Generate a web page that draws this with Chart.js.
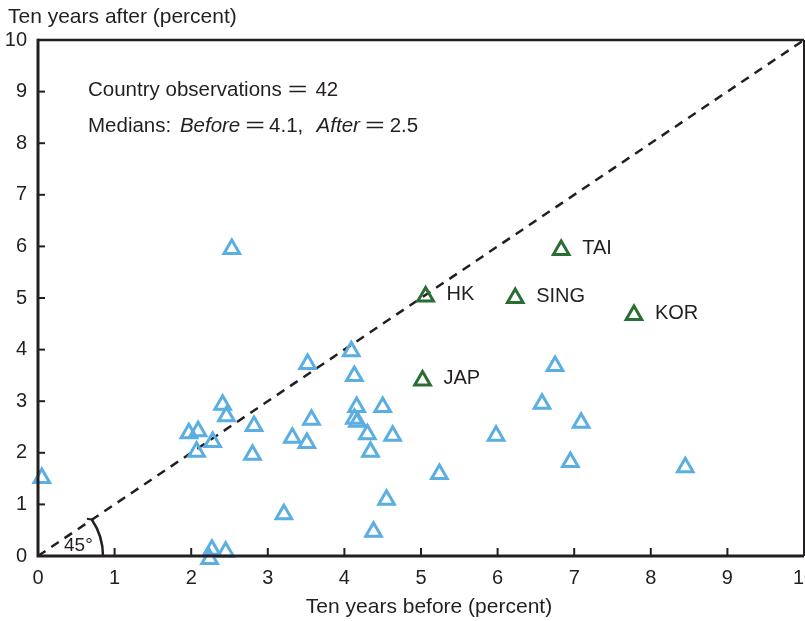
<!DOCTYPE html>
<html><head><meta charset="utf-8">
<script src="https://cdn.jsdelivr.net/npm/chart.js@4"></script>
<style>html,body{margin:0;padding:0;background:#fff}</style>
</head><body>
<canvas id="c" width="805" height="621"></canvas>
<script>
// ---- data ----
const axisMin = 0;
const axisMax = 10;
const otherBefore = [0.05,2.53,1.97,2.09,2.07,2.28,2.41,2.46,2.82,2.80,2.24,2.27,2.45,3.21,3.32,3.51,3.52,3.57,4.09,4.13,4.16,4.13,4.17,4.30,4.34,4.50,4.63,4.55,4.38,5.24,5.98,6.58,6.75,7.09,6.95,8.45];
const otherAfter  = [1.51,5.95,2.38,2.42,2.02,2.21,2.93,2.71,2.52,1.96,-0.06,0.12,0.08,0.81,2.29,2.19,3.72,2.64,3.97,3.49,2.89,2.66,2.60,2.36,2.02,2.89,2.33,1.09,0.47,1.59,2.33,2.95,3.68,2.58,1.82,1.72];
const asiaNames  = ['HK','SING','TAI','KOR','JAP'];
const asiaBefore = [5.06,6.23,6.83,7.78,5.02];
const asiaAfter  = [5.03,5.00,5.93,4.67,3.40];
const diagonal   = [0,10];
const xTitle = 'Ten years before (percent)';
const yTitle = 'Ten years after (percent)';
const observations = '42';
const medianBefore = '4.1';
const medianAfter = '2.5';

const INK = '#231f20';
const BLUE = '#5aaee2';
const GREEN = '#2b6e34';
const FONT = '"Liberation Sans", Arial, sans-serif';

// parts: [text, font, gapBefore, xScale]
function drawRun(ctx, x, y, parts) {
  for (const [t, font, gap, sx] of parts) {
    x += gap;
    ctx.font = font;
    const w = ctx.measureText(t).width;
    const k = sx || 1;
    ctx.save();
    ctx.translate(x, y);
    ctx.scale(k, 1);
    ctx.fillText(t, 0, 0);
    ctx.restore();
    x += w * k;
  }
}

const overlay = {
  id: 'overlay',
  afterDatasetsDraw(chart) {
    const ctx = chart.ctx;
    const a = chart.chartArea;
    const xs = chart.scales.x, ys = chart.scales.y;
    ctx.save();
    ctx.strokeStyle = INK;
    ctx.lineCap = 'butt';
    ctx.lineWidth = 2.5;
    ctx.beginPath(); ctx.moveTo(a.left, a.top); ctx.lineTo(a.right, a.top); ctx.stroke();
    ctx.lineWidth = 2;
    ctx.beginPath(); ctx.moveTo(a.right, a.top); ctx.lineTo(a.right, a.bottom); ctx.stroke();
    ctx.lineWidth = 3;
    ctx.beginPath(); ctx.moveTo(a.left, a.top - 1.2); ctx.lineTo(a.left, a.bottom); ctx.lineTo(a.right, a.bottom); ctx.stroke();
    ctx.lineWidth = 2;
    for (let v = axisMin + 1; v < axisMax; v++) {
      const px = xs.getPixelForValue(v);
      ctx.beginPath(); ctx.moveTo(px, a.bottom); ctx.lineTo(px, a.bottom - 8); ctx.stroke();
      const py = ys.getPixelForValue(v);
      ctx.beginPath(); ctx.moveTo(a.left, py); ctx.lineTo(a.left + 7, py); ctx.stroke();
    }
    const ox = xs.getPixelForValue(0), oy = ys.getPixelForValue(0);
    const ang = Math.atan2(ys.getPixelForValue(1) - oy, xs.getPixelForValue(1) - ox);
    const R = 65;
    ctx.lineWidth = 2.5;
    ctx.beginPath(); ctx.arc(ox, oy, R, ang, 0); ctx.stroke();
    const ex = ox + R * Math.cos(ang), ey = oy + R * Math.sin(ang);
    ctx.lineWidth = 2;
    ctx.beginPath(); ctx.moveTo(ex + 1, ey); ctx.lineTo(ex - 5, ey - 1); ctx.stroke();
    ctx.restore();
  },
  afterDraw(chart) {
    const ctx = chart.ctx;
    const a = chart.chartArea;
    ctx.save();
    ctx.fillStyle = INK;
    ctx.textBaseline = 'middle';
    ctx.textAlign = 'left';
    ctx.font = '21px ' + FONT;
    ctx.fillText(yTitle, 8, 17);
    ctx.textAlign = 'center';
    ctx.fillText(xTitle, (a.left + a.right) / 2 + 8, 607);
    ctx.textAlign = 'left';
    const F = '20.5px ' + FONT, FI = 'italic 20.5px ' + FONT;
    const EQ = 1.65;
    drawRun(ctx, 88, 90, [['Country observations', F, 0], ['=', F, 6, EQ], [observations, F, 8]]);
    drawRun(ctx, 88, 126, [['Medians: ', F, 0], ['Before', FI, 3], ['=', F, 5, EQ], [medianBefore + ',  ', F, 4], ['After', FI, 2], ['=', F, 5, EQ], [medianAfter, F, 5]]);
    ctx.font = '19px ' + FONT;
    ctx.fillText('45°', 64, 546);
    ctx.font = '20px ' + FONT;
    const meta = chart.getDatasetMeta(1);
    meta.data.forEach((pt, i) => {
      ctx.fillText(asiaNames[i], pt.x + 21, pt.y - 2);
    });
    ctx.restore();
  }
};

new Chart(document.getElementById('c'), {
  type: 'scatter',
  data: {
    datasets: [
      {
        label: 'Other',
        data: otherBefore.map((v, i) => ({x: v, y: otherAfter[i]})),
        pointStyle: 'triangle', radius: 9, borderWidth: 3,
        borderColor: BLUE, backgroundColor: 'rgba(255,255,255,0)',
        clip: false, order: 1
      },
      {
        label: 'Asia',
        data: asiaBefore.map((v, i) => ({x: v, y: asiaAfter[i]})),
        pointStyle: 'triangle', radius: 9, borderWidth: 3,
        borderColor: GREEN, backgroundColor: 'rgba(255,255,255,0)',
        clip: false, order: 0
      },
      {
        type: 'line', label: '45',
        data: diagonal.map(v => ({x: v, y: v})),
        borderColor: INK, borderWidth: 2.5, borderDash: [9, 7],
        pointRadius: 0, fill: false, order: 5
      }
    ]
  },
  options: {
    responsive: false, animation: false, devicePixelRatio: 1, events: [],
    layout: { padding: {left: 0, right: 1, top: 40, bottom: 0}, autoPadding: false },
    plugins: { legend: {display: false}, tooltip: {enabled: false}, title: {display: false} },
    scales: {
      x: {
        type: 'linear', position: 'bottom', min: axisMin, max: axisMax,
        grid: {display: false, drawTicks: false}, border: {display: false},
        ticks: {stepSize: 1, color: INK, font: {size: 20, family: FONT}, padding: 10, maxRotation: 0, autoSkip: false},
        title: {display: false},
        afterFit(s) { s.height = 65; s.paddingLeft = 0; s.paddingRight = 0; }
      },
      y: {
        type: 'linear', position: 'left', min: axisMin, max: axisMax,
        grid: {display: false, drawTicks: false}, border: {display: false},
        ticks: {stepSize: 1, color: INK, font: {size: 20, family: FONT}, padding: 11, autoSkip: false},
        afterFit(s) { s.width = 38; s.paddingTop = 0; s.paddingBottom = 0; }
      }
    }
  },
  plugins: [overlay]
});
</script>
</body></html>
